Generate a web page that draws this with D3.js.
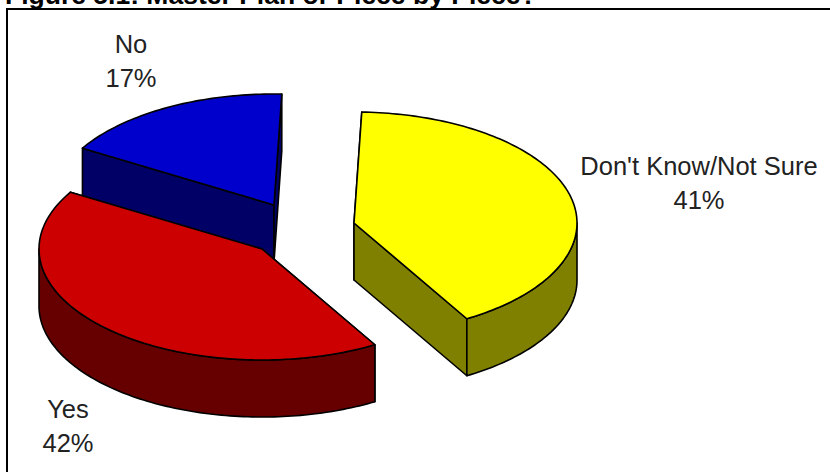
<!DOCTYPE html>
<html><head><meta charset="utf-8">
<script src="https://cdnjs.cloudflare.com/ajax/libs/d3/7.8.5/d3.min.js"></script>
<style>html,body{margin:0;padding:0;background:#fff}svg{display:block}</style>
</head><body><svg id="c" width="830" height="472"></svg>
<script>
const categories = ["Don't Know/Not Sure", "Yes", "No"];
const values = [41, 42, 17];
const percentLabels = ["41%", "42%", "17%"];
const topColors = ["#FFFF00", "#CC0000", "#0000CC"];
const sideColors = ["#808000", "#660000", "#000066"];
const centers = [[354, 223], [262, 249], [274, 205]];
const labelPositions = [[699, 175], [68, 418], [131, 53]];
const drawOrder = [2, 1, 0];
const titleText = "Figure 5.1: Master Plan or Piece by Piece?";

const W = 830, H = 472, RX = 223, RY = 111, DEPTH = 57;
const svg = d3.select("#c");
const START = 2 * Math.PI / 180;
const slices = d3.pie().sort(null).value(d => d).startAngle(START).endAngle(START + 2 * Math.PI)(values);

const xs = d3.scaleLinear().domain([-1, 1]).range([-RX, RX]);
const ys = d3.scaleLinear().domain([-1, 1]).range([RY, -RY]);
const line = d3.line().x(d => d[0]).y(d => d[1]);

function rimPoint(c, t, dz) {
  return [c[0] + xs(Math.sin(t)), c[1] + ys(Math.cos(t)) + dz];
}
function arcPoints(c, a, b, dz) {
  const n = Math.max(2, Math.ceil(Math.abs(b - a) / 0.02));
  return d3.range(n + 1).map(i => rimPoint(c, a + (b - a) * i / n, dz));
}
function shape(g, pts, fill) {
  g.append("path").attr("d", line(pts) + "Z")
    .attr("fill", fill).attr("stroke", "#000").attr("stroke-width", 1.6)
    .attr("stroke-linejoin", "round");
}
svg.append("text").attr("x", 5).attr("y", 3.5).attr("font-family", "Liberation Sans")
  .attr("font-weight", "bold").attr("font-size", 26.5).attr("fill", "#000").text(titleText);
svg.append("rect").attr("x", 7).attr("y", 9).attr("width", W).attr("height", H)
  .attr("fill", "#fff").attr("stroke", "#000").attr("stroke-width", 2);

drawOrder.forEach(i => {
  const s = slices[i], c = centers[i], g = svg.append("g").attr("class", "slice");
  const sa = s.startAngle, ea = s.endAngle;
  const base = [c[0], c[1] + DEPTH];
  [sa, ea].forEach(t => {
    const p = rimPoint(c, t, 0);
    shape(g, [c, p, [p[0], p[1] + DEPTH], base], sideColors[i]);
  });
  const low = Math.max(sa, Math.PI / 2), high = Math.min(ea, 3 * Math.PI / 2);
  if (high > low) {
    shape(g, arcPoints(c, low, high, 0).concat(arcPoints(c, high, low, DEPTH)), sideColors[i]);
  }
  shape(g, [c].concat(arcPoints(c, sa, ea, 0)), topColors[i]);
});

categories.forEach((name, i) => {
  const t = svg.append("text").attr("text-anchor", "middle")
    .attr("font-family", "Liberation Sans").attr("font-size", 25.5).attr("fill", "#222");
  t.append("tspan").attr("x", labelPositions[i][0]).attr("y", labelPositions[i][1]).text(name);
  t.append("tspan").attr("x", labelPositions[i][0]).attr("y", labelPositions[i][1] + 34).text(percentLabels[i]);
});
</script></body></html>
